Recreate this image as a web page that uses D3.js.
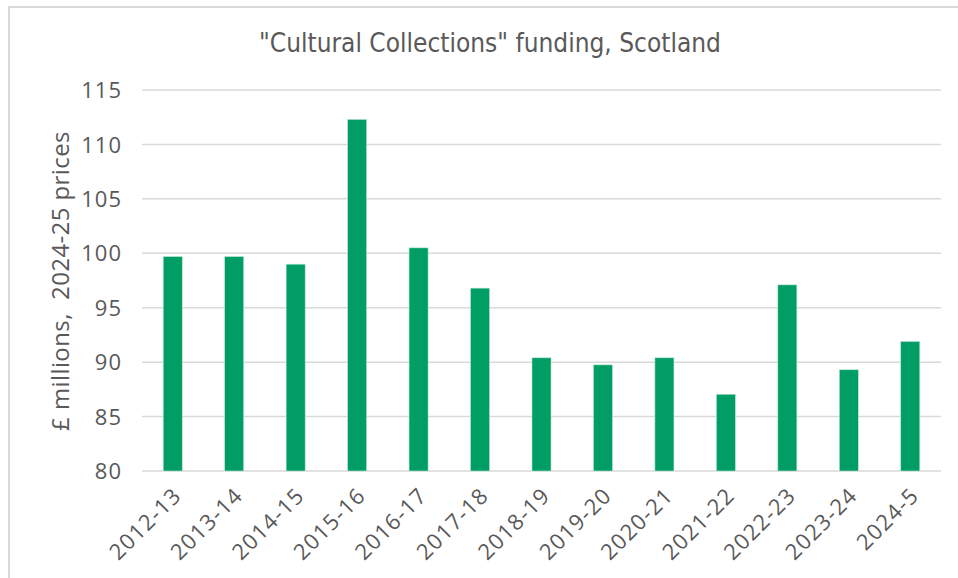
<!DOCTYPE html>
<html>
<head>
<meta charset="utf-8">
<script src="https://cdn.jsdelivr.net/npm/d3@7"></script>
<style>
  html, body { margin: 0; padding: 0; background: #fff; }
  svg { display: block; }
</style>
</head>
<body>
<svg id="chart" width="958" height="578"></svg>
<script>
const categories = ["2012-13","2013-14","2014-15","2015-16","2016-17","2017-18","2018-19","2019-20","2020-21","2021-22","2022-23","2023-24","2024-5"];
const values = [99.7, 99.7, 99.0, 112.3, 100.5, 96.8, 90.4, 89.75, 90.4, 87.05, 97.1, 89.3, 91.9];
const yTicks = [80, 85, 90, 95, 100, 105, 110, 115];
const title = "\"Cultural Collections\" funding, Scotland";
const yLabel = "£ millions,  2024-25 prices";

const svg = d3.select("#chart");
const W = 958, H = 578;
const margin = { left: 142, right: 17, top: 90, bottom: 107 };

svg.append("rect").attr("x", 0).attr("y", 0).attr("width", W).attr("height", H).attr("fill", "#fff");
svg.append("rect").attr("x", 9).attr("y", 7).attr("width", W + 20).attr("height", H + 20)
  .attr("fill", "none").attr("stroke", "#d9d9d9").attr("stroke-width", 2);

const x = d3.scaleBand().domain(categories).range([margin.left, W - margin.right]).paddingInner(0.69).paddingOuter(0.345);
const y = d3.scaleLinear().domain([80, 115]).range([H - margin.bottom, margin.top]);

svg.append("g").selectAll("line").data(yTicks).join("line")
  .attr("x1", margin.left).attr("x2", W - margin.right)
  .attr("y1", d => y(d)).attr("y2", d => y(d))
  .attr("stroke", "#d9d9d9").attr("stroke-width", 1.5);

svg.append("g").selectAll("rect").data(values).join("rect")
  .attr("x", (d, i) => x(categories[i]))
  .attr("width", x.bandwidth())
  .attr("y", d => y(d))
  .attr("height", d => y(80) - y(d))
  .attr("fill", "#009e65")
  .attr("stroke", "#bfe8d6").attr("stroke-width", 0.6);

const yAxis = d3.axisLeft(y).tickValues(yTicks).tickSize(0).tickPadding(0);
const gy = svg.append("g").attr("transform", `translate(${margin.left - 20},0)`).call(yAxis);
gy.select(".domain").remove();
gy.selectAll("text").attr("font-family", "'Open Sans', sans-serif").attr("font-size", 22)
  .attr("letter-spacing", 1).attr("fill", "#595959").attr("dy", "0.35em");

const xAxis = d3.axisBottom(x).tickSize(0).tickPadding(0);
const gx = svg.append("g").attr("transform", `translate(0,${H - margin.bottom})`).call(xAxis);
gx.select(".domain").remove();
gx.selectAll("text")
  .attr("font-family", "'Open Sans', sans-serif").attr("font-size", 22).attr("fill", "#595959")
  .attr("letter-spacing", 1.2)
  .attr("text-anchor", "end")
  .attr("x", 0).attr("y", 0).attr("dy", 0)
  .attr("transform", "translate(10,26) rotate(-45)");

svg.append("text").attr("x", 490).attr("y", 52).attr("text-anchor", "middle")
  .attr("font-family", "'DejaVu Sans Condensed', 'DejaVu Sans', sans-serif").attr("font-size", 26).attr("fill", "#595959")
  .text(title);

svg.append("text").attr("transform", `translate(69,281) rotate(-90)`).attr("text-anchor", "middle")
  .attr("font-family", "'Open Sans', sans-serif").attr("font-size", 24).attr("fill", "#595959")
  .attr("letter-spacing", 0.4)
  .attr("xml:space", "preserve").style("white-space", "pre")
  .text(yLabel);
</script>
</body>
</html>
